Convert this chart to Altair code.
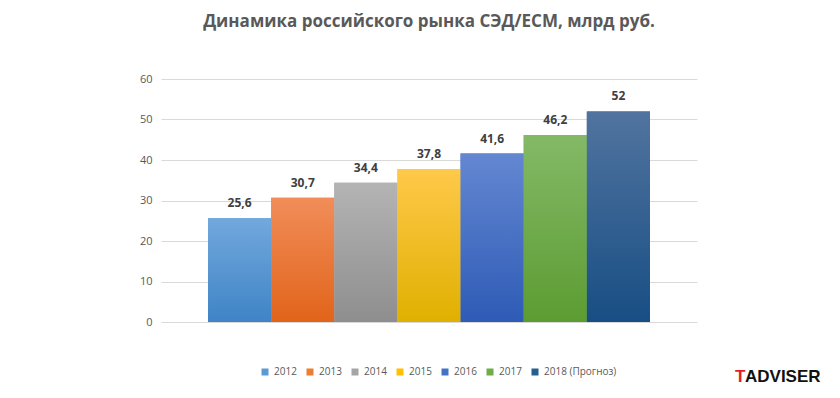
import altair as alt
import pandas as pd

years = ["2012", "2013", "2014", "2015", "2016", "2017", "2018 (Прогноз)"]
values = [25.6, 30.7, 34.4, 37.8, 41.6, 46.2, 52]
legend_colors = ["#5B9BD5", "#ED7D31", "#A5A5A5", "#FFC000", "#4472C4", "#70AD47", "#255E91"]
top_colors = ["#72A8DD", "#F18D59", "#B4B4B4", "#FFC94A", "#6487D1", "#84B967", "#51749F"]
bottom_colors = ["#3F84C6", "#E1641A", "#8E8E8E", "#E0B000", "#2E5BB6", "#5C9C32", "#184E84"]
y_ticks = [0, 10, 20, 30, 40, 50, 60]

df = pd.DataFrame({"year": years, "value": values})

x_enc = alt.X("year:N", sort=years, axis=None,
              scale=alt.Scale(paddingInner=0, paddingOuter=0.745))
y_enc = alt.Y("value:Q", scale=alt.Scale(domain=[0, 60], nice=False),
              axis=alt.Axis(values=y_ticks, title=None, domain=False, ticks=False,
                            grid=True, gridColor="#D9D9D9", gridWidth=1,
                            labelColor="#595959", labelFontSize=11,
                            labelFont="Open Sans", labelPadding=9))

base = alt.Chart(df).encode(x=x_enc, y=y_enc)

legend_layer = base.mark_bar().encode(
    color=alt.Color("year:N",
                    scale=alt.Scale(domain=years, range=legend_colors),
                    legend=alt.Legend(orient="none", legendX=99, legendY=288,
                                      direction="horizontal", columns=7,
                                      title=None, symbolType="square",
                                      symbolSize=49, symbolStrokeWidth=0,
                                      labelFontSize=10, labelColor="#595959",
                                      labelFont="Open Sans", columnPadding=8,
                                      symbolOffset=0, labelOffset=4, labelLimit=0))
)

layers = [legend_layer]
for yr, tc, bc in zip(years, top_colors, bottom_colors):
    grad = alt.Gradient(gradient="linear",
                        stops=[alt.GradientStop(color=tc, offset=0),
                               alt.GradientStop(color=bc, offset=1)],
                        x1=0, x2=0, y1=0, y2=1)
    layers.append(base.transform_filter(alt.datum.year == yr).mark_bar(color=grad))

labels = base.transform_calculate(
    label="replace(toString(datum.value), '.', ',')"
).mark_text(baseline="bottom", dy=-8, fontSize=12, fontWeight="bold",
            color="#404040", font="Open Sans").encode(text="label:N")
layers.append(labels)

logo_t = alt.Chart(pd.DataFrame({"t": ["T"]})).mark_text(
    align="left", baseline="middle", fontSize=17, fontWeight="bold",
    color="#E31E24", font="Liberation Sans"
).encode(text="t:N", x=alt.value(574), y=alt.value(298))
logo_rest = alt.Chart(pd.DataFrame({"t": ["ADVISER"]})).mark_text(
    align="left", baseline="middle", fontSize=17, fontWeight="bold",
    color="#111111", font="Liberation Sans"
).encode(text="t:N", x=alt.value(584), y=alt.value(298))
layers += [logo_t, logo_rest]

chart = alt.layer(*layers).properties(
    width=536, height=243,
    title=alt.TitleParams("Динамика российского рынка СЭД/ECM, млрд руб.",
                          font="Open Sans", fontSize=17, fontWeight="bold",
                          color="#595959", anchor="middle", offset=42),
    autosize=alt.AutoSizeParams(type="none"),
    padding={"left": 153, "top": 71, "right": 135, "bottom": 68},
).configure_view(stroke=None)

chart.save("out.html", embed_options={"renderer": "svg", "actions": False})
